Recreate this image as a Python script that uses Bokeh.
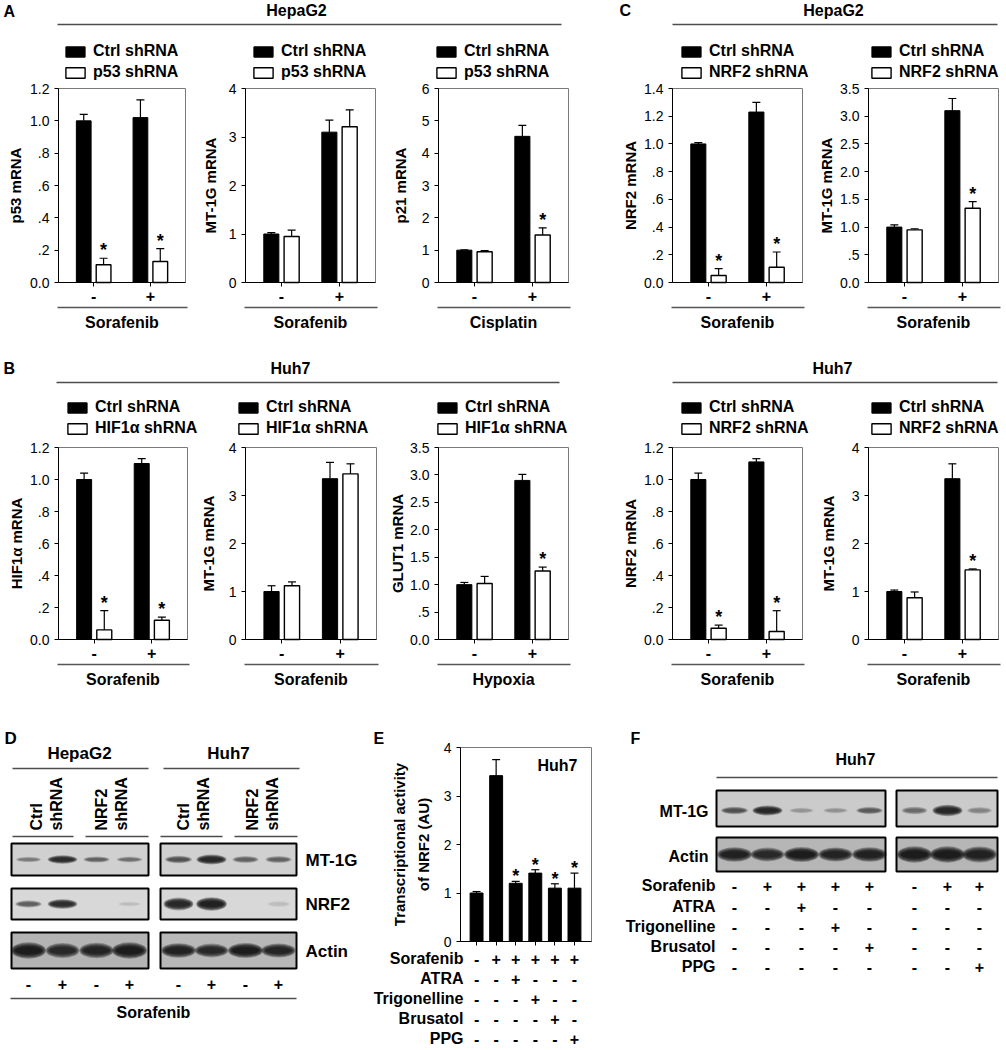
from math import pi
from bokeh.plotting import figure
from bokeh.models import (ColumnDataSource, Range1d, FixedTicker, LinearAxis, Legend,
                          LegendItem, Whisker, TeeHead)
from bokeh.embed import file_html
from bokeh.resources import INLINE
from bokeh.core.properties import value

FONT = "Liberation Sans"
FV = value(FONT)

# ====================== DATA ======================
conditions = ["-", "+"]

# A: HepaG2, p53 knockdown
A1_ctrl, A1_ctrl_err = [1.00, 1.02], [0.04, 0.11]
A1_kd, A1_kd_err = [0.11, 0.13], [0.04, 0.08]
A1_star = [True, True]
A2_ctrl, A2_ctrl_err = [1.00, 3.10], [0.03, 0.25]
A2_kd, A2_kd_err = [0.95, 3.21], [0.13, 0.35]
A2_star = [False, False]
A3_ctrl, A3_ctrl_err = [1.00, 4.52], [0.01, 0.34]
A3_kd, A3_kd_err = [0.95, 1.47], [0.04, 0.22]
A3_star = [False, True]
# C: HepaG2, NRF2 knockdown
C1_ctrl, C1_ctrl_err = [1.00, 1.23], [0.01, 0.07]
C1_kd, C1_kd_err = [0.05, 0.11], [0.05, 0.11]
C1_star = [True, True]
C2_ctrl, C2_ctrl_err = [1.00, 3.10], [0.04, 0.22]
C2_kd, C2_kd_err = [0.95, 1.34], [0.02, 0.12]
C2_star = [False, True]
# B: Huh7
B1_ctrl, B1_ctrl_err = [1.00, 1.10], [0.04, 0.03]
B1_kd, B1_kd_err = [0.06, 0.12], [0.12, 0.02]
B1_star = [True, True]
B2_ctrl, B2_ctrl_err = [1.00, 3.35], [0.12, 0.34]
B2_kd, B2_kd_err = [1.12, 3.45], [0.08, 0.21]
B2_star = [False, False]
B3_ctrl, B3_ctrl_err = [1.00, 2.90], [0.04, 0.11]
B3_kd, B3_kd_err = [1.02, 1.25], [0.13, 0.07]
B3_star = [False, True]
B4_ctrl, B4_ctrl_err = [1.00, 1.11], [0.04, 0.02]
B4_kd, B4_kd_err = [0.07, 0.05], [0.02, 0.13]
B4_star = [True, True]
B5_ctrl, B5_ctrl_err = [1.00, 3.35], [0.03, 0.31]
B5_kd, B5_kd_err = [0.87, 1.45], [0.12, 0.02]
B5_star = [False, True]

ticks_12 = [0, 0.2, 0.4, 0.6, 0.8, 1.0, 1.2]
labels_12 = ["0.0", ".2", ".4", ".6", ".8", "1.0", "1.2"]
ticks_14 = [0, 0.2, 0.4, 0.6, 0.8, 1.0, 1.2, 1.4]
labels_14 = ["0.0", ".2", ".4", ".6", ".8", "1.0", "1.2", "1.4"]
ticks_4 = [0, 1, 2, 3, 4]
labels_4 = ["0", "1", "2", "3", "4"]
ticks_6 = [0, 1, 2, 3, 4, 5, 6]
labels_6 = ["0", "1", "2", "3", "4", "5", "6"]
ticks_35 = [0, 0.5, 1.0, 1.5, 2.0, 2.5, 3.0, 3.5]
labels_35 = ["0.0", ".5", "1.0", "1.5", "2.0", "2.5", "3.0", "3.5"]

# E: NRF2 transcriptional activity (Huh7)
E_vals = [1.00, 3.42, 1.20, 1.41, 1.10, 1.10]
E_err = [0.03, 0.33, 0.04, 0.07, 0.09, 0.31]
E_star = [False, False, True, True, True, True]
treat_rows = ["Sorafenib", "ATRA", "Trigonelline", "Brusatol", "PPG"]
E_sorafenib = ["-", "+", "+", "+", "+", "+"]
E_atra = ["-", "-", "+", "-", "-", "-"]
E_trig = ["-", "-", "-", "+", "-", "-"]
E_brus = ["-", "-", "-", "-", "+", "-"]
E_ppg = ["-", "-", "-", "-", "-", "+"]

# D: western blot band intensities (0..1); lanes: Ctrl -, Ctrl +, NRF2 -, NRF2 +
D_sorafenib = ["-", "+", "-", "+"]
D_hep_mt1g = [0.30, 0.85, 0.40, 0.35]
D_hep_nrf2 = [0.45, 0.85, 0.00, 0.06]
D_hep_actin = [1.00, 0.85, 0.90, 1.00]
D_huh_mt1g = [0.50, 0.90, 0.40, 0.40]
D_huh_nrf2 = [0.90, 1.00, 0.00, 0.06]
D_huh_actin = [0.95, 0.85, 1.00, 0.90]

# F: western blot (Huh7), 5 + 3 lanes
F_sorafenib = ["-", "+", "+", "+", "+", "-", "+", "+"]
F_atra = ["-", "-", "+", "-", "-", "-", "-", "-"]
F_trig = ["-", "-", "-", "+", "-", "-", "-", "-"]
F_brus = ["-", "-", "-", "-", "+", "-", "-", "-"]
F_ppg = ["-", "-", "-", "-", "-", "-", "-", "+"]
F_mt1g = [0.50, 0.90, 0.18, 0.20, 0.45, 0.35, 0.90, 0.25]
F_actin = [0.95, 0.85, 1.00, 0.90, 0.95, 1.00, 1.00, 0.95]

# ====================== CANVAS ======================
W, H = 1004, 1048
p = figure(width=W, height=H, output_backend="svg", toolbar_location=None,
           x_range=Range1d(0, W), y_range=Range1d(H, 0),
           x_axis_location=None, y_axis_location=None, min_border=0)
p.outline_line_color = None
p.grid.visible = False


def txt(x, y, s, size="16px", align="left", baseline="middle", bold=True, angle=0.0,
        line_height=1.2):
    p.text(x=[x], y=[y], text=[s], text_font=FV, text_font_size=size,
           text_font_style="bold" if bold else "normal", text_align=align,
           text_baseline=baseline, angle=angle, text_color="black",
           text_line_height=line_height)


def hline(x0, x1, y, color="#4d4d4d", width=1.3):
    p.segment(x0=[x0], y0=[y], x1=[x1], y1=[y], line_color=color, line_width=width)


def style_axis(ax, label_size="14px"):
    ax.axis_line_color = "black"
    ax.axis_line_width = 1
    ax.major_tick_line_color = "black"
    ax.major_tick_out = 4
    ax.major_tick_in = 0
    ax.minor_tick_line_color = None
    ax.major_label_text_font = FONT
    ax.major_label_text_font_size = label_size
    ax.major_label_text_color = "black"


def add_ranges(key, L, R, T, B, x0, x1, ymax):
    ux = (R - L) / (x1 - x0)
    uy = (B - T) / ymax
    p.extra_x_ranges = {**p.extra_x_ranges, key + "x": Range1d(x0 - L / ux, x1 + (W - R) / ux)}
    p.extra_y_ranges = {**p.extra_y_ranges, key + "y": Range1d(-(H - B) / uy, ymax + T / uy)}
    return key + "x", key + "y"


def y_axis(ky, L, ymax, yt, ytl):
    ya = LinearAxis(y_range_name=ky, fixed_location=L, bounds=(0, ymax),
                    ticker=FixedTicker(ticks=yt),
                    major_label_overrides={t: l for t, l in zip(yt, ytl)})
    style_axis(ya)
    p.add_layout(ya, "left")


def bar_chart(key, L, R, T, B, ymax, yt, ytl, ylab, ylab_x, xlab, names,
              ctrl, ctrl_err, kd, kd_err, star, ldx, lgap):
    x0, x1 = -0.62, 1.62
    kx, ky = add_ranges(key, L, R, T, B, x0, x1, ymax)
    # frame box
    p.quad(left=[x0], right=[x1], bottom=[0], top=[ymax], x_range_name=kx, y_range_name=ky,
           fill_color=None, line_color="#7a7a7a", line_width=1)
    y_axis(ky, L, ymax, yt, ytl)
    xa = LinearAxis(x_range_name=kx, fixed_location=B, bounds=(x0, x1),
                    ticker=FixedTicker(ticks=[0, 1]),
                    major_label_overrides={i: c for i, c in enumerate(conditions)})
    style_axis(xa, "16px")
    xa.major_label_text_font_style = "bold"
    xa.major_label_standoff = 3
    p.add_layout(xa, "below")

    idx = list(range(len(ctrl)))
    cx = [i - 0.175 for i in idx]
    kdx = [i + 0.175 for i in idx]
    sc = ColumnDataSource(dict(x=cx, top=ctrl, up=[v + e for v, e in zip(ctrl, ctrl_err)]))
    sk = ColumnDataSource(dict(x=kdx, top=kd, up=[v + e for v, e in zip(kd, kd_err)]))
    rc = p.vbar(x="x", top="top", width=0.26, bottom=0, source=sc, x_range_name=kx,
                y_range_name=ky, fill_color="black", line_color="black", line_width=1)
    rk = p.vbar(x="x", top="top", width=0.26, bottom=0, source=sk, x_range_name=kx,
                y_range_name=ky, fill_color="white", line_color="black", line_width=1.4)
    for s in (sc, sk):
        p.add_layout(Whisker(source=s, base="x", upper="up", lower="top", dimension="height",
                             x_range_name=kx, y_range_name=ky,
                             line_color="black", line_width=1.2,
                             upper_head=TeeHead(size=8, line_color="black", line_width=1.2),
                             lower_head=None))
    sx = [x for x, f in zip(kdx, star) if f]
    sy = [v + e for v, e, f in zip(kd, kd_err, star) if f]
    if sx:
        p.text(x=sx, y=sy, text=["*"] * len(sx), x_range_name=kx, y_range_name=ky,
               text_font=FV, text_font_size="18px", text_font_style="bold",
               text_align="center", text_baseline="alphabetic", y_offset=-8,
               text_color="black")

    leg = Legend(items=[LegendItem(label=names[0], renderers=[rc]),
                        LegendItem(label=names[1], renderers=[rk])],
                 location=(L + ldx, H - (T - lgap)), orientation="vertical",
                 glyph_width=24, glyph_height=13, label_standoff=6, spacing=3,
                 padding=0, margin=0, label_height=16,
                 label_text_font=FONT, label_text_font_size="16px",
                 label_text_font_style="bold", label_text_color="black",
                 background_fill_alpha=0, border_line_color=None)
    p.add_layout(leg, "center")

    txt(ylab_x, (T + B) / 2, ylab, "15px", "center", "middle", True, pi / 2)
    hline(L - 1, R + 2, B + 25, "#555555", 1.3)
    txt((L + R) / 2, B + 40, xlab, "16px", "center")


BAND_LAYERS = [(1.10, 1.50), (1.05, 1.32), (1.00, 1.15), (0.94, 0.98), (0.88, 0.80), (0.82, 0.62)]


def blot(x0, x1, y0, y1, bg, lanes, inten, bw, bh, yc=None):
    p.quad(left=[x0], right=[x1], top=[y0], bottom=[y1], fill_color=bg,
           line_color="black", line_width=2)
    if yc is None:
        yc = (y0 + y1) / 2
    for sw, sh in BAND_LAYERS:
        src = ColumnDataSource(dict(
            x=lanes, y=[yc] * len(lanes),
            w=[bw * sw * (0.75 + 0.25 * v) for v in inten],
            h=[bh * sh * (0.45 + 0.55 * v) for v in inten],
            a=[0.3 * v for v in inten]))
        p.ellipse(x="x", y="y", width="w", height="h", source=src,
                  fill_color="#0a0a0a", fill_alpha="a", line_color=None)


# ====================== PANELS A and C ======================
txt(3, 11, "A", "16px")
txt(296, 10, "HepaG2", "16px", "center")
hline(57, 561, 24)
txt(619, 10, "C", "16px")
txt(833, 10, "HepaG2", "16px", "center")
hline(672, 997, 24)

T1, B1 = 88, 282
bar_chart("a1", 58, 185, T1, B1, 1.2, ticks_12, labels_12, "p53 mRNA", 15, "Sorafenib",
          ["Ctrl shRNA", "p53 shRNA"], A1_ctrl, A1_ctrl_err, A1_kd, A1_kd_err, A1_star, 5, 7)
bar_chart("a2", 245, 375, T1, B1, 4, ticks_4, labels_4, "MT-1G mRNA", 210, "Sorafenib",
          ["Ctrl shRNA", "p53 shRNA"], A2_ctrl, A2_ctrl_err, A2_kd, A2_kd_err, A2_star, 6, 7)
bar_chart("a3", 438, 568, T1, B1, 6, ticks_6, labels_6, "p21 mRNA", 400, "Cisplatin",
          ["Ctrl shRNA", "p53 shRNA"], A3_ctrl, A3_ctrl_err, A3_kd, A3_kd_err, A3_star, -4, 7)
bar_chart("c1", 672, 802, T1, B1, 1.4, ticks_14, labels_14, "NRF2 mRNA", 630, "Sorafenib",
          ["Ctrl shRNA", "NRF2 shRNA"], C1_ctrl, C1_ctrl_err, C1_kd, C1_kd_err, C1_star, 7, 7)
bar_chart("c2", 868, 998, T1, B1, 3.5, ticks_35, labels_35, "MT-1G mRNA", 826, "Sorafenib",
          ["Ctrl shRNA", "NRF2 shRNA"], C2_ctrl, C2_ctrl_err, C2_kd, C2_kd_err, C2_star, 1, 7)

# ====================== PANEL B and Huh7 NRF2 ======================
txt(3, 368, "B", "16px")
txt(290, 368, "Huh7", "16px", "center")
hline(56, 559, 382)
txt(832, 368, "Huh7", "16px", "center")
hline(672, 997, 382)

T2, B2 = 447, 639
bar_chart("b1", 58, 187, T2, B2, 1.2, ticks_12, labels_12, "HIF1α mRNA", 16, "Sorafenib",
          ["Ctrl shRNA", "HIF1α shRNA"], B1_ctrl, B1_ctrl_err, B1_kd, B1_kd_err, B1_star, 7, 10)
bar_chart("b2", 245, 376, T2, B2, 4, ticks_4, labels_4, "MT-1G mRNA", 208, "Sorafenib",
          ["Ctrl shRNA", "HIF1α shRNA"], B2_ctrl, B2_ctrl_err, B2_kd, B2_kd_err, B2_star, -9, 10)
bar_chart("b3", 438, 568, T2, B2, 3.5, ticks_35, labels_35, "GLUT1 mRNA", 397, "Hypoxia",
          ["Ctrl shRNA", "HIF1α shRNA"], B3_ctrl, B3_ctrl_err, B3_kd, B3_kd_err, B3_star, -3, 10)
bar_chart("b4", 672, 802, T2, B2, 1.2, ticks_12, labels_12, "NRF2 mRNA", 630, "Sorafenib",
          ["Ctrl shRNA", "NRF2 shRNA"], B4_ctrl, B4_ctrl_err, B4_kd, B4_kd_err, B4_star, 7, 10)
bar_chart("b5", 868, 998, T2, B2, 4, ticks_4, labels_4, "MT-1G mRNA", 828, "Sorafenib",
          ["Ctrl shRNA", "NRF2 shRNA"], B5_ctrl, B5_ctrl_err, B5_kd, B5_kd_err, B5_star, 1, 10)

# ====================== PANEL D (western blot) ======================
txt(4, 738, "D", "17px")
txt(79, 753, "HepaG2", "17px", "center")
txt(228, 753, "Huh7", "17px", "center")
hline(12, 148, 768)
hline(163, 299, 768)
for gx, lab in [(46, "Ctrl\nshRNA"), (111, "NRF2\nshRNA"), (193, "Ctrl\nshRNA"), (262, "NRF2\nshRNA")]:
    txt(gx, 830, lab, "16px", "left", "middle", True, pi / 2)
for x0, x1 in [(12, 73), (85, 148), (160, 222), (234, 297)]:
    hline(x0, x1, 836)
hep_lanes = [28, 62, 96, 129]
huh_lanes = [178, 211, 245, 278]
blot(11, 148, 843, 875, "#d0d0d0", hep_lanes, D_hep_mt1g, 28, 6)
blot(160, 296, 843, 875, "#d0d0d0", huh_lanes, D_huh_mt1g, 28, 7)
blot(11, 148, 888, 919, "#d8d8d8", hep_lanes, D_hep_nrf2, 28, 7)
blot(160, 296, 888, 919, "#d8d8d8", huh_lanes, D_huh_nrf2, 28, 9)
blot(11, 148, 932, 968, "#b4b4b4", hep_lanes, D_hep_actin, 32, 11)
blot(160, 296, 932, 968, "#b8b8b8", huh_lanes, D_huh_actin, 32, 10)
txt(305, 860, "MT-1G", "17px")
txt(305, 904, "NRF2", "17px")
txt(305, 951, "Actin", "17px")
for x, s in zip(hep_lanes + huh_lanes, D_sorafenib + D_sorafenib):
    txt(x, 983, s, "16px", "center")
hline(10, 296, 998)
txt(153, 1012, "Sorafenib", "16px", "center")

# ====================== PANEL E (bar chart) ======================
EL, ER, ET, EB = 460, 591, 747, 941
ex0, ex1 = -0.82, 5.87
ekx, eky = add_ranges("e", EL, ER, ET, EB, ex0, ex1, 4)
p.quad(left=[ex0], right=[ex1], bottom=[0], top=[4], x_range_name=ekx, y_range_name=eky,
       fill_color=None, line_color="#7a7a7a", line_width=1)
y_axis(eky, EL, 4, ticks_4, labels_4)
exa = LinearAxis(x_range_name=ekx, fixed_location=EB, bounds=(ex0, ex1),
                 ticker=FixedTicker(ticks=list(range(len(E_vals)))))
style_axis(exa)
exa.major_label_text_color = None
p.add_layout(exa, "below")
ex = list(range(len(E_vals)))
es = ColumnDataSource(dict(x=ex, top=E_vals, up=[v + e for v, e in zip(E_vals, E_err)]))
p.vbar(x="x", top="top", width=0.66, bottom=0, source=es, x_range_name=ekx, y_range_name=eky,
       fill_color="black", line_color="black")
p.add_layout(Whisker(source=es, base="x", upper="up", lower="top", dimension="height",
                     x_range_name=ekx, y_range_name=eky, line_color="black", line_width=1.2,
                     upper_head=TeeHead(size=8, line_color="black", line_width=1.2),
                     lower_head=None))
esx = [x for x, f in zip(ex, E_star) if f]
esy = [v + e for v, e, f in zip(E_vals, E_err, E_star) if f]
p.text(x=esx, y=esy, text=["*"] * len(esx), x_range_name=ekx, y_range_name=eky,
       text_font=FV, text_font_size="18px", text_font_style="bold", text_align="center",
       text_baseline="alphabetic", y_offset=-5, text_color="black")
txt(373, 738, "E", "16px")
txt(557, 765, "Huh7", "16px", "center")
txt(411, (ET + EB) / 2, "Transcriptional activity\nof NRF2 (AU)", "15px", "center", "middle",
    True, pi / 2, 1.45)
row_y = [958, 978, 998, 1018, 1038]
for ry, lab, signs in zip(row_y, treat_rows, [E_sorafenib, E_atra, E_trig, E_brus, E_ppg]):
    txt(463, ry, lab, "16px", "right")
    p.text(x=ex, y=[ry] * len(ex), text=signs, x_range_name=ekx, text_font=FV,
           text_font_size="16px", text_font_style="bold", text_align="center",
           text_baseline="middle", text_color="black")

# ====================== PANEL F (western blot) ======================
txt(630, 738, "F", "16px")
txt(855, 759, "Huh7", "16px", "center")
hline(716, 997, 777)
f_lanes = [734, 767, 801, 835, 869, 914, 947, 979]
blot(716, 885, 790, 826, "#cbcbcb", f_lanes[:5], F_mt1g[:5], 28, 7, 810)
blot(896, 997, 790, 826, "#cbcbcb", f_lanes[5:], F_mt1g[5:], 28, 8, 810)
blot(716, 885, 837, 871, "#b6b6b6", f_lanes[:5], F_actin[:5], 32, 10)
blot(896, 997, 837, 871, "#b6b6b6", f_lanes[5:], F_actin[5:], 32, 11)
txt(708, 811, "MT-1G", "16px", "right")
txt(708, 856, "Actin", "16px", "right")
for ry, lab, signs in zip([885, 906, 926, 946, 966], treat_rows,
                          [F_sorafenib, F_atra, F_trig, F_brus, F_ppg]):
    txt(715, ry, lab, "16px", "right")
    for x, s in zip(f_lanes, signs):
        txt(x, ry, s, "16px", "center")

open("out.html", "w").write(file_html(p, INLINE))
